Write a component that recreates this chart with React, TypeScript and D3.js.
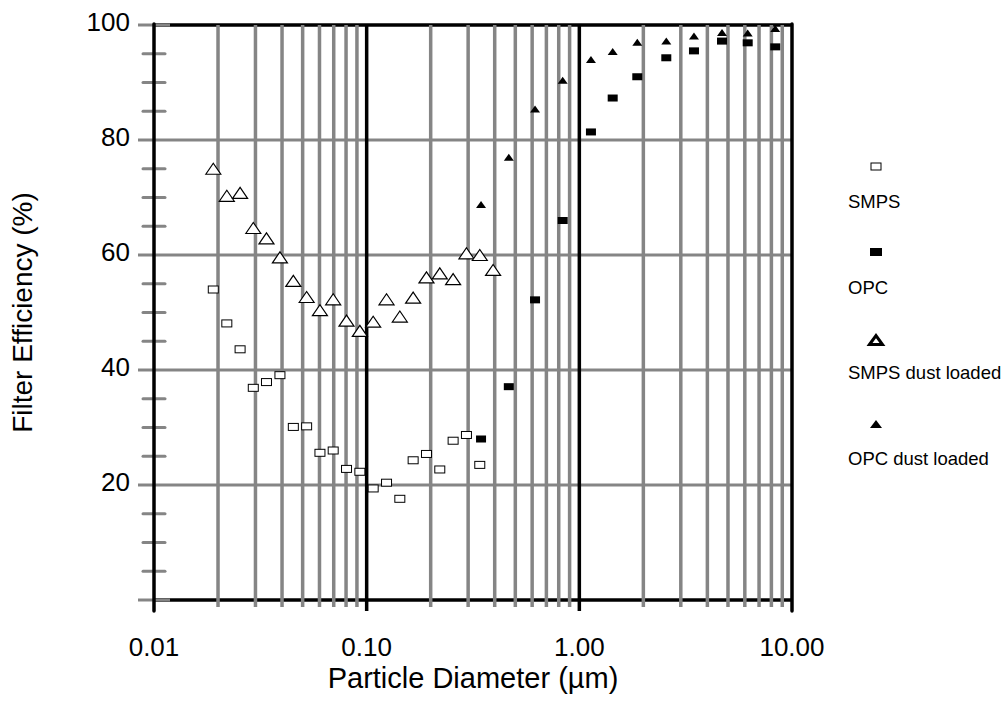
import * as d3 from "d3";

// particle diameters (µm)
const smpsDiam = [
  0.019, 0.022, 0.0254, 0.0293, 0.0338, 0.0391, 0.0452, 0.0522, 0.0603, 0.0696, 0.0804,
  0.0929, 0.1073, 0.124, 0.1432, 0.1654, 0.1911, 0.2207, 0.255, 0.2946, 0.3403, 0.3931,
];
const smps = [
  54.0, 48.1, 43.6, 36.9, 37.9, 39.1, 30.1, 30.2, 25.6, 26.0, 22.8, 22.3, 19.4, 20.4, 17.6,
  24.3, 25.4, 22.7, 27.7, 28.7, 23.5,
];
const smpsDust = [
  75.0, 70.3, 70.8, 64.7, 62.9, 59.6, 55.5, 52.7, 50.4, 52.3, 48.6, 46.8, 48.4, 52.3, 49.3,
  52.6, 56.1, 56.8, 55.8, 60.3, 60.0, 57.4,
];
const opcDiam = [0.345, 0.466, 0.619, 0.835, 1.134, 1.435, 1.873, 2.564, 3.46, 4.687, 6.19, 8.34];
const opc = [28.0, 37.1, 52.2, 66.0, 81.4, 87.3, 91.0, 94.3, 95.5, 97.2, 96.9, 96.2];
const opcDust = [68.8, 77.0, 85.4, 90.4, 94.0, 95.4, 97.0, 97.2, 98.1, 98.7, 98.6, 99.4];

const xTickLabels = ["0.01", "0.10", "1.00", "10.00"];
const yTicks = [20, 40, 60, 80, 100];
const legendNames = ["SMPS", "OPC", "SMPS dust loaded", "OPC dust loaded"];

const W = 1007;
const H = 704;
const FONT = "Liberation Sans, Arial, sans-serif";
const GRID = "#858585";

const x = d3.scaleLog().domain([0.01, 10]).range([154, 792]);
const y = d3.scaleLinear().domain([0, 100]).range([600, 25]);

const tri = (cx: number, cy: number, w: number, h: number) =>
  `M${cx - w / 2},${cy + h / 2}L${cx},${cy - h / 2}L${cx + w / 2},${cy + h / 2}Z`;

export default function App() {
  const [x0, x1] = x.range();
  const [y0, y1] = y.range();
  const minorX = d3.range(-2, 1).flatMap((e) =>
    d3.range(2, 10).map((m) => m * Math.pow(10, e))
  );
  const decades = [0.1, 1];
  const minorY = d3.range(5, 100, 5).filter((v) => v % 20 !== 0);

  return (
    <svg
      width={W}
      height={H}
      style={{ position: "absolute", left: 0, top: 0, background: "#fff" }}
      fontFamily={FONT}
    >
      {/* horizontal grid */}
      {yTicks.slice(0, -1).map((v) => (
        <line key={v} x1={138} x2={x1} y1={y(v)} y2={y(v)} stroke={GRID} strokeWidth={3} />
      ))}
      {/* top and bottom frame */}
      <line x1={154} x2={x1} y1={y1} y2={y1} stroke="#000" strokeWidth={3.5} />
      <line x1={154} x2={x1} y1={y0} y2={y0} stroke="#000" strokeWidth={3.5} />
      <line x1={138} x2={170} y1={y1} y2={y1} stroke={GRID} strokeWidth={3} />
      <line x1={138} x2={170} y1={y0} y2={y0} stroke={GRID} strokeWidth={3} />
      {/* minor y ticks */}
      {minorY.map((v) => (
        <line key={v} x1={143} x2={165} y1={y(v)} y2={y(v)} stroke={GRID} strokeWidth={3} strokeLinecap="round" />
      ))}
      {/* vertical grid */}
      {minorX.map((d) => (
        <line key={d} x1={x(d)} x2={x(d)} y1={y1} y2={607} stroke={GRID} strokeWidth={3.5} />
      ))}
      {decades.map((d) => (
        <line key={d} x1={x(d)} x2={x(d)} y1={y1} y2={611} stroke="#000" strokeWidth={3.5} />
      ))}
      <line x1={x0} x2={x0} y1={y1 - 1} y2={611} stroke="#000" strokeWidth={3.5} strokeLinecap="round" />
      <line x1={x1} x2={x1} y1={y1 - 1} y2={611} stroke="#000" strokeWidth={3.5} strokeLinecap="round" />

      {/* tick labels */}
      {yTicks.map((v) => (
        <text key={v} x={130} y={y(v) + 6} textAnchor="end" fontSize={26}>
          {v}
        </text>
      ))}
      {xTickLabels.map((t) => (
        <text key={t} x={x(+t)} y={656} textAnchor="middle" fontSize={26}>
          {t}
        </text>
      ))}
      <text x={(x0 + x1) / 2} y={688} textAnchor="middle" fontSize={29}>
        Particle Diameter (µm)
      </text>
      <text
        transform={`translate(32,${(y0 + y1) / 2}) rotate(-90)`}
        textAnchor="middle"
        fontSize={28}
      >
        Filter Efficiency (%)
      </text>

      {/* data */}
      {smps.map((v, i) => (
        <rect key={"s" + i} x={x(smpsDiam[i]) - 5} y={y(v) - 3.5} width={10} height={7} fill="#fff" stroke="#000" strokeWidth={1} />
      ))}
      {smpsDust.map((v, i) => (
        <path key={"sd" + i} d={tri(x(smpsDiam[i]), y(v), 15, 11)} fill="#fff" stroke="#000" strokeWidth={1.2} />
      ))}
      {opc.map((v, i) => (
        <rect key={"o" + i} x={x(opcDiam[i]) - 5} y={y(v) - 3.5} width={10} height={7} fill="#000" />
      ))}
      {opcDust.map((v, i) => (
        <path key={"od" + i} d={tri(x(opcDiam[i]), y(v), 10, 7)} fill="#000" />
      ))}

      {/* legend */}
      <rect x={871} y={163} width={10} height={7} fill="#fff" stroke="#000" strokeWidth={1} />
      <rect x={870} y={248} width={12} height={8} fill="#000" />
      <path d={tri(876, 340, 13, 9)} fill="#fff" stroke="#000" strokeWidth={3} strokeLinejoin="miter" />
      <path d={tri(876, 424, 12, 8)} fill="#000" />
      {legendNames.map((n, i) => (
        <text key={n} x={848} y={[208, 294, 379, 465][i]} fontSize={18.5}>
          {n}
        </text>
      ))}
    </svg>
  );
}
